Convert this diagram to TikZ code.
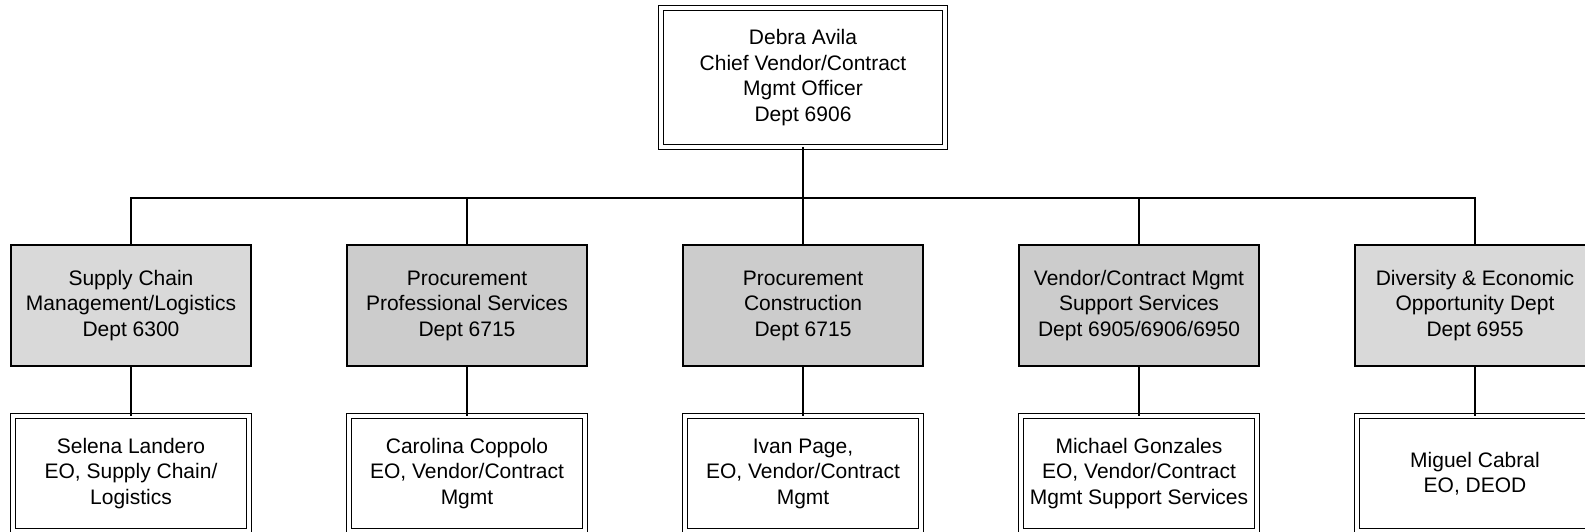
\documentclass[tikz,border=0pt]{standalone}
\usepackage{fontspec}
\setmainfont{Liberation Sans}
\definecolor{greyA}{HTML}{D9D9D9}
\definecolor{greyB}{HTML}{CCCCCC}
\begin{document}
\begin{tikzpicture}[x=1pt,y=-1pt,
  every node/.style={font=\fontsize{21}{25.5}\selectfont, align=center, inner sep=0pt, outer sep=0pt},
  deptbox/.style={draw=black, line width=1.8pt, minimum width=240pt, minimum height=121pt},
  headbox/.style={draw=black, line width=1.7pt, double=white, double distance=3.2pt},
  link/.style={draw=black, line width=1.8pt}]
\useasboundingbox (0,0) rectangle (1585,532);
\node[headbox, minimum width=284pt, minimum height=139pt] (top) at (803,77.5) {Debra Avila\\Chief Vendor/Contract\\Mgmt Officer\\Dept 6906};
\node[deptbox, fill=greyA] (g1) at (131,305.5) {Supply Chain\\Management/Logistics\\Dept 6300};
\node[deptbox, fill=greyB] (g2) at (467,305.5) {Procurement\\Professional Services\\Dept 6715};
\node[deptbox, fill=greyB] (g3) at (803,305.5) {Procurement\\Construction\\Dept 6715};
\node[deptbox, fill=greyB] (g4) at (1139,305.5) {Vendor/Contract Mgmt\\Support Services\\Dept 6905/6906/6950};
\node[deptbox, fill=greyA] (g5) at (1475,305.5) {Diversity \& Economic\\Opportunity Dept\\Dept 6955};
\node[headbox, minimum width=236pt, minimum height=115pt] (p1) at (131,473.5) {Selena Landero\\EO, Supply Chain/\\Logistics};
\node[headbox, minimum width=236pt, minimum height=115pt] (p2) at (467,473.5) {Carolina Coppolo\\EO, Vendor/Contract\\Mgmt};
\node[headbox, minimum width=236pt, minimum height=115pt] (p3) at (803,473.5) {Ivan Page,\\EO, Vendor/Contract\\Mgmt};
\node[headbox, minimum width=236pt, minimum height=115pt] (p4) at (1139,473.5) {Michael Gonzales\\EO, Vendor/Contract\\Mgmt Support Services};
\node[headbox, minimum width=236pt, minimum height=115pt] (p5) at (1475,473.5) {Miguel Cabral\\EO, DEOD};
\coordinate (bus) at (803,198);
\draw[link] (top.south) -- (bus);
\draw[link] (g1.north) -- (g1.north |- bus) -- (g5.north |- bus) -- (g5.north);
\draw[link] (g2.north) -- (g2.north |- bus);
\draw[link] (g3.north) -- (g3.north |- bus);
\draw[link] (g4.north) -- (g4.north |- bus);
\foreach \i in {1,...,5} {\draw[link] (g\i.south) -- (p\i.north);}
\end{tikzpicture}
\end{document}
